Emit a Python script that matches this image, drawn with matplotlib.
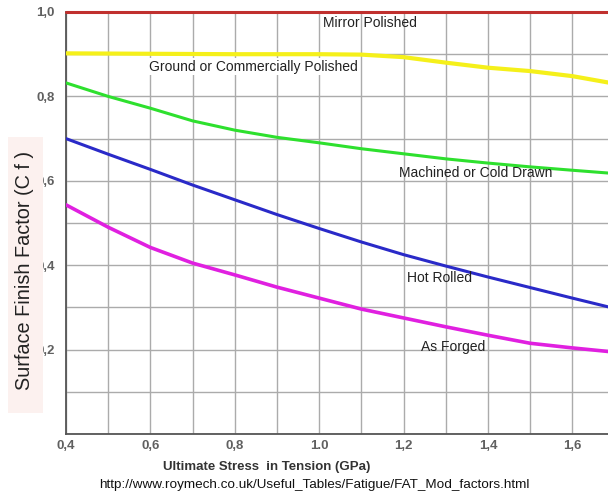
import matplotlib
matplotlib.use("Agg")
import matplotlib.pyplot as plt
from matplotlib.ticker import MultipleLocator, FixedLocator, FixedFormatter
from matplotlib.patches import Rectangle

plt.rcParams['font.family'] = ['Liberation Sans', 'DejaVu Sans']

# Data (ultimate stress in GPa, surface finish factor)
x_mirror = [0.4, 1.7]
y_mirror = [1.0, 1.0]

x_ground = [0.4, 0.6, 0.8, 1.0, 1.1, 1.2, 1.3, 1.4, 1.5, 1.6, 1.69]
y_ground = [0.902, 0.901, 0.900, 0.900, 0.899, 0.893, 0.880, 0.868, 0.860, 0.848, 0.832]

x_machined = [0.4, 0.5, 0.6, 0.7, 0.8, 0.9, 1.0, 1.1, 1.2, 1.3, 1.4, 1.5, 1.6, 1.69]
y_machined = [0.832, 0.800, 0.772, 0.742, 0.720, 0.703, 0.690, 0.676, 0.664, 0.652, 0.642, 0.633, 0.625, 0.618]

x_hot = [0.4, 0.5, 0.6, 0.7, 0.8, 0.9, 1.0, 1.1, 1.2, 1.3, 1.4, 1.5, 1.6, 1.69]
y_hot = [0.700, 0.663, 0.627, 0.590, 0.555, 0.520, 0.487, 0.455, 0.425, 0.398, 0.372, 0.347, 0.322, 0.300]

x_forged = [0.4, 0.5, 0.6, 0.7, 0.8, 0.9, 1.0, 1.1, 1.2, 1.3, 1.4, 1.5, 1.6, 1.69]
y_forged = [0.543, 0.490, 0.442, 0.405, 0.377, 0.348, 0.322, 0.296, 0.275, 0.254, 0.234, 0.215, 0.204, 0.195]

x_tick_vals = [0.4, 0.6, 0.8, 1.0, 1.2, 1.4, 1.6]
x_tick_labels = ["0,4", "0,6", "0,8", "1.0", "1,2", "1,4", "1,6"]
y_tick_vals = [0.2, 0.4, 0.6, 0.8, 1.0]
y_tick_labels = ["0,2", "0,4", "0,6", "0,8", "1,0"]

fig = plt.figure(figsize=(6.08, 4.95), dpi=100)
ax = fig.add_axes([66/608, (495-434)/495, (608-66)/608, 422/495])

ax.set_xlim(0.4, 0.4 + (608-66)/422)
ax.set_ylim(0, 1.0)

ax.xaxis.set_minor_locator(MultipleLocator(0.1))
ax.yaxis.set_minor_locator(MultipleLocator(0.1))
ax.xaxis.set_major_locator(FixedLocator(x_tick_vals))
ax.xaxis.set_major_formatter(FixedFormatter(x_tick_labels))
ax.yaxis.set_major_locator(FixedLocator(y_tick_vals))
ax.yaxis.set_major_formatter(FixedFormatter(y_tick_labels))
ax.grid(which='both', color='#ababab', lw=1.0)
ax.set_axisbelow(True)
ax.tick_params(which='both', length=0)
ax.tick_params(axis='x', pad=4, labelsize=9.5, labelcolor='#606060')
ax.tick_params(axis='y', pad=8, labelsize=9.5, labelcolor='#606060')
for t in ax.get_xticklabels() + ax.get_yticklabels():
    t.set_fontweight('bold')

for s in ['top', 'right']:
    ax.spines[s].set_visible(False)
for s in ['left', 'bottom']:
    ax.spines[s].set_color('#555555')
    ax.spines[s].set_linewidth(1.3)

line_kw = dict(solid_joinstyle='round', solid_capstyle='round', zorder=3)
ax.plot(x_mirror, y_mirror, color='#c0302e', lw=2.2, clip_on=False, **line_kw)
ax.plot(x_ground, y_ground, color='#f5f01a', lw=3, **line_kw)
ax.plot(x_machined, y_machined, color='#2ee02e', lw=2.2, **line_kw)
ax.plot(x_hot, y_hot, color='#2a2ac8', lw=2.2, **line_kw)
ax.plot(x_forged, y_forged, color='#e020e0', lw=2.6, **line_kw)

lab_kw = dict(fontsize=10, color='#222222', ha='center', va='center', zorder=4)
ax.text(1.12, 0.974, "Mirror Polished", **lab_kw)
ax.text(0.843, 0.870, "Ground or Commercially Polished",
        bbox=dict(facecolor='white', edgecolor='none', pad=1), **lab_kw)
ax.text(1.37, 0.618, "Machined or Cold Drawn", **lab_kw)
ax.text(1.284, 0.370, "Hot Rolled", **lab_kw)
ax.text(1.317, 0.207, "As Forged", **lab_kw)

# y-label with faint pink background panel
fig.patches.append(Rectangle((8/608, 1 - 413/495), 35/608, 276/495,
                             transform=fig.transFigure, facecolor='#fcf1ef',
                             edgecolor='none', zorder=0))
fig.text(25/608, 1 - 270/495, "Surface Finish Factor (C f )", rotation=90,
         fontsize=14.3, color='#222222', ha='center', va='center')

fig.text(267/608, 1 - 467/495, "Ultimate Stress  in Tension (GPa)",
         fontsize=9.5, fontweight='bold', color='#333333', ha='center', va='center')
fig.text(314/608, 1 - 485/495, "http://www.roymech.co.uk/Useful_Tables/Fatigue/FAT_Mod_factors.html",
         fontsize=9.7, color='#111111', ha='center', va='center')

fig.savefig("out.png", dpi=100)
